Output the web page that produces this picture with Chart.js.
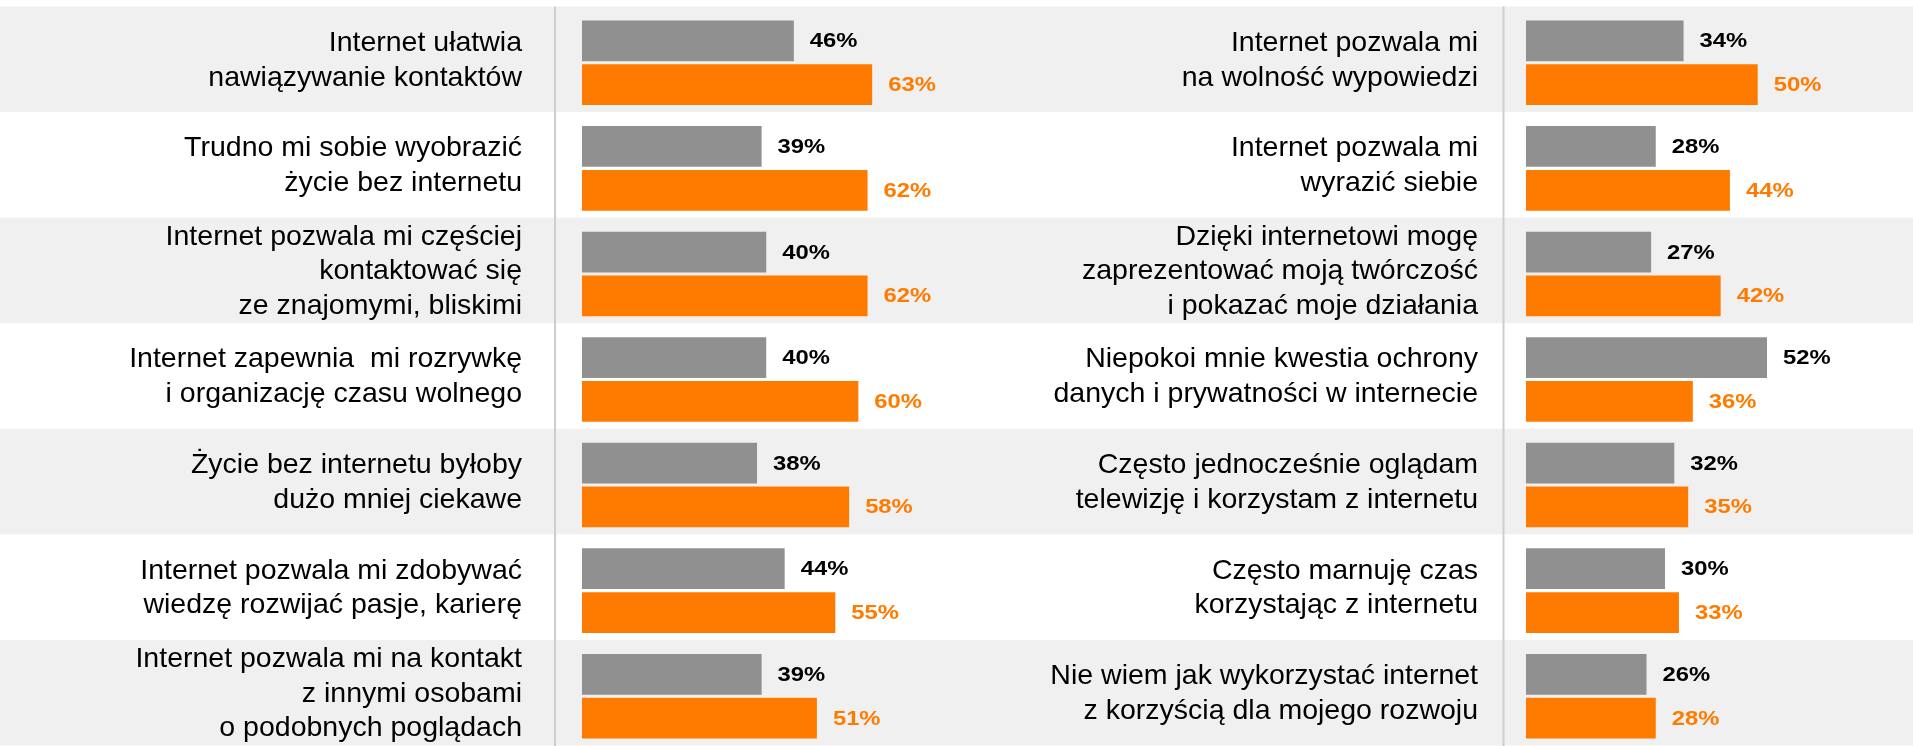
<!DOCTYPE html>
<html>
<head>
<meta charset="utf-8">
<script src="https://cdn.jsdelivr.net/npm/chart.js@4/dist/chart.umd.min.js"></script>
<style>
  html, body { margin: 0; padding: 0; background: #ffffff; overflow: hidden; }
  #wrap { display: flex; width: 1913px; height: 752px; }
  #leftBox { position: relative; width: 953px; height: 752px; }
  #rightBox { position: relative; width: 960px; height: 752px; }
</style>
</head>
<body>
<div id="wrap">
  <div id="leftBox"><canvas id="leftChart"></canvas></div>
  <div id="rightBox"><canvas id="rightChart"></canvas></div>
</div>
<script>
// ---------- DATA ----------
const leftCategories = [
  ["Internet ułatwia", "nawiązywanie kontaktów"],
  ["Trudno mi sobie wyobrazić", "życie bez internetu"],
  ["Internet pozwala mi częściej", "kontaktować się", "ze znajomymi, bliskimi"],
  ["Internet zapewnia  mi rozrywkę", "i organizację czasu wolnego"],
  ["Życie bez internetu byłoby", "dużo mniej ciekawe"],
  ["Internet pozwala mi zdobywać", "wiedzę rozwijać pasje, karierę"],
  ["Internet pozwala mi na kontakt", "z innymi osobami", "o podobnych poglądach"]
];
const leftGray = [46, 39, 40, 40, 38, 44, 39];
const leftOrange = [63, 62, 62, 60, 58, 55, 51];

const rightCategories = [
  ["Internet pozwala mi", "na wolność wypowiedzi"],
  ["Internet pozwala mi", "wyrazić siebie"],
  ["Dzięki internetowi mogę", "zaprezentować moją twórczość", "i pokazać moje działania"],
  ["Niepokoi mnie kwestia ochrony", "danych i prywatności w internecie"],
  ["Często jednocześnie oglądam", "telewizję i korzystam z internetu"],
  ["Często marnuję czas", "korzystając z internetu"],
  ["Nie wiem jak wykorzystać internet", "z korzyścią dla mojego rozwoju"]
];
const rightGray = [34, 28, 27, 52, 32, 30, 26];
const rightOrange = [50, 44, 42, 36, 35, 33, 28];

const seriesNames = ["Seria 1", "Seria 2"];

// ---------- STYLE ----------
const GRAY = "#8f908f";
const ORANGE = "#ff7b00";
const BAND = "#f0f0f0";
const SEP = "#cdcdcd";
const FONT = "'Liberation Sans', Arial, Helvetica, sans-serif";

const bandsPlugin = {
  id: "bands",
  beforeDraw(chart) {
    const y = chart.scales.y;
    const ctx = chart.ctx;
    const n = y.getLabels().length;
    const step = y.getPixelForValue(1) - y.getPixelForValue(0);
    const shift = -3.5;
    ctx.save();
    ctx.fillStyle = BAND;
    for (let i = 0; i < n; i += 2) {
      const c = y.getPixelForValue(i) + shift;
      ctx.fillRect(0, c - step / 2, chart.width, step);
    }
    const top = y.getPixelForValue(0) + shift - step / 2;
    ctx.strokeStyle = SEP;
    ctx.lineWidth = 2;
    ctx.beginPath();
    ctx.moveTo(chart.chartArea.left, top);
    ctx.lineTo(chart.chartArea.left, chart.height);
    ctx.stroke();
    ctx.restore();
  }
};

const valueLabelsPlugin = {
  id: "valueLabels",
  afterDatasetsDraw(chart) {
    const ctx = chart.ctx;
    const colors = ["#000000", ORANGE];
    ctx.save();
    ctx.font = "bold 20px " + FONT;
    ctx.textAlign = "left";
    ctx.textBaseline = "middle";
    chart.data.datasets.forEach((ds, di) => {
      const meta = chart.getDatasetMeta(di);
      ctx.fillStyle = colors[di];
      meta.data.forEach((el, i) => {
        ctx.save();
        ctx.translate(el.x + 16, el.y + 1);
        ctx.scale(1.19, 1);
        ctx.fillText(ds.data[i] + "%", 0, 0);
        ctx.restore();
      });
    });
    ctx.restore();
  }
};

function makeChart(id, labels, gray, orange, axisWidth, labelPad, xmin, xmax) {
  return new Chart(document.getElementById(id), {
    type: "bar",
    data: {
      labels: labels,
      datasets: [
        { label: seriesNames[0], data: gray, backgroundColor: GRAY, borderWidth: 0,
          categoryPercentage: 0.83, barPercentage: 0.93 },
        { label: seriesNames[1], data: orange, backgroundColor: ORANGE, borderWidth: 0,
          categoryPercentage: 0.83, barPercentage: 0.93 }
      ]
    },
    options: {
      indexAxis: "y",
      responsive: true,
      maintainAspectRatio: false,
      devicePixelRatio: 1,
      animation: false,
      layout: { padding: { top: 10, bottom: 3, left: 0, right: 0 } },
      plugins: {
        legend: { display: false },
        tooltip: { enabled: false },
        title: { display: false }
      },
      scales: {
        x: {
          display: false,
          min: xmin,
          max: xmax
        },
        y: {
          grid: { display: false, drawTicks: false },
          border: { display: false },
          ticks: {
            color: "#000000",
            padding: labelPad,
            labelOffset: -2.5,
            autoSkip: false,
            font: { family: FONT, size: 28.5, lineHeight: 1.22 }
          },
          afterFit(scale) {
            scale.width = axisWidth;
            scale.paddingTop = 0;
            scale.paddingBottom = 0;
          }
        }
      }
    },
    plugins: [bandsPlugin, valueLabelsPlugin]
  });
}

makeChart("leftChart", leftCategories, leftGray, leftOrange, 555, 33, -5.86, 80.55);
makeChart("rightChart", rightCategories, rightGray, rightOrange, 550.5, 25.5, -4.85, 83.5);
</script>
</body>
</html>
